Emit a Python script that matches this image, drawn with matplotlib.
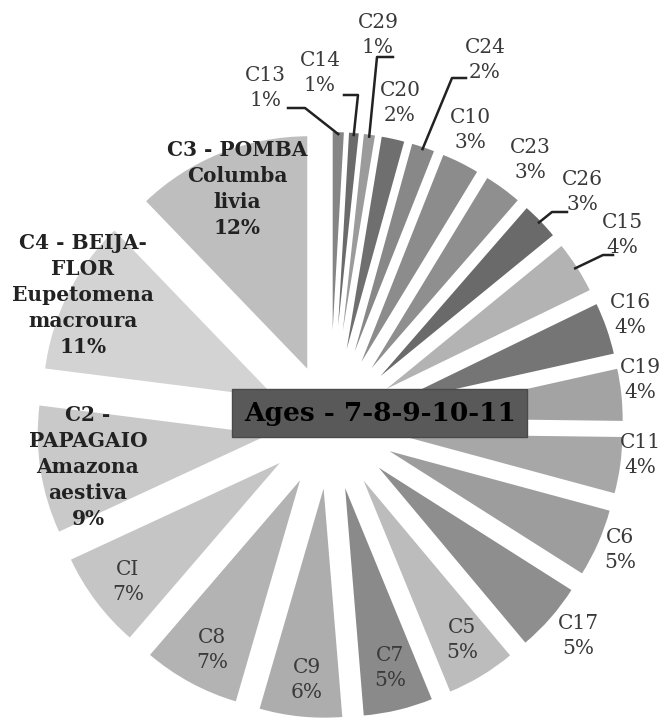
import numpy as np
import matplotlib.pyplot as plt
from matplotlib.patches import Rectangle

# slices, clockwise from 12 o'clock
codes = ['C13', 'C14', 'C29', 'C20', 'C24', 'C10', 'C23', 'C26', 'C15', 'C16', 'C19',
         'C11', 'C6', 'C17', 'C5', 'C7', 'C9', 'C8', 'CI', 'C2 -', 'C4 - BEIJA-', 'C3 - POMBA']
names = ['', '', '', '', '', '', '', '', '', '', '', '', '', '', '', '', '', '', '',
         'PAPAGAIO\nAmazona\naestiva', 'FLOR\nEupetomena\nmacroura', 'Columba\nlivia']
# shares (%); labels show them rounded
share = [0.9, 0.8, 0.9, 1.7, 1.7, 2.7, 2.7, 2.7, 3.7, 3.7, 3.7,
         4.0, 4.8, 4.9, 4.9, 4.9, 5.8, 6.8, 6.8, 8.9, 10.8, 12.2]
shades = ['#858585', '#6b6b6b', '#9b9b9b', '#6f6f6f', '#888888', '#8c8c8c', '#8f8f8f',
          '#6a6a6a', '#b3b3b3', '#757575', '#a3a3a3', '#a7a7a7', '#9d9d9d', '#8e8e8e',
          '#bcbcbc', '#8a8a8a', '#adadad', '#b3b3b3', '#c5c5c5', '#c9c9c9', '#d3d3d3',
          '#bebebe']
title = 'Ages - 7-8-9-10-11'

W, H = 665, 727
fig = plt.figure(figsize=(W / 100, H / 100), dpi=100)
ax = fig.add_axes([0, 0, 1, 1])

cx, cy = 330, H - 425   # pie centre (pixels, y up)
R, EX = 236, 58

wedges, _ = ax.pie(share, startangle=90, counterclock=False, radius=R, center=(cx, cy),
                   explode=[EX] * len(share), colors=shades,
                   wedgeprops=dict(edgecolor='white', linewidth=1.5))
ax.set_xlim(0, W)
ax.set_ylim(0, H)
ax.set_aspect('equal')
ax.axis('off')

# label positions in image pixels (x, y from top)
label_pos = [(265, 88), (320, 73), (378, 35), (400, 103), (485, 60), (470, 130), (530, 160),
             (582, 192), (622, 235), (630, 315), (640, 380), (640, 455), (620, 550),
             (578, 636), (462, 640), (390, 668), (307, 680), (212, 650), (128, 582),
             (88, 467), (83, 295), (237, 189)]
# leader lines: elbow and end point near label (pixels from top)
leaders = {0: [(305, 108), (288, 108)], 1: [(358, 95), (344, 95)],
           2: [(377, 57), (393, 57)], 4: [(452, 78), (466, 78)],
           7: [(552, 212), (567, 212)], 8: [(603, 255), (613, 255)]}

total = sum(share)
cum = 0
for i, (code, name, p) in enumerate(zip(codes, names, share)):
    mid = np.deg2rad(90 - 360 * (cum + p / 2) / total)
    cum += p
    x, y = label_pos[i]
    bold = name != ''
    pct = f'{round(p)}%'
    txt = f'{code}\n{name}\n{pct}' if bold else f'{code}\n{pct}'
    ax.text(x, H - y, txt, ha='center', va='center', fontsize=14.5,
            family='DejaVu Serif', fontweight='bold' if bold else 'normal',
            color='#222222' if bold else '#3a3a3a', linespacing=1.38)
    if i in leaders:
        ax0 = cx + (R + EX - 3) * np.cos(mid)
        ay0 = cy + (R + EX - 3) * np.sin(mid)
        pts = [(ax0, ay0)] + [(px, H - py) for px, py in leaders[i]]
        xs, ys = zip(*pts)
        ax.plot(xs, ys, color='#222222', lw=1.8)

# title box over the centre
ax.add_patch(Rectangle((232, H - 437), 295, 48, facecolor='#595959',
                       edgecolor='#4a4a4a', lw=1, zorder=5))
ax.text(380, H - 414, title, ha='center', va='center', fontsize=19,
        family='DejaVu Serif', fontweight='bold', color='black', zorder=6)

fig.savefig('out.png', dpi=100)
